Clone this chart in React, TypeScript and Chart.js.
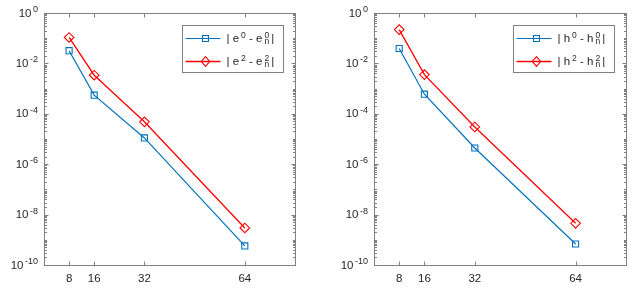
import React, { useEffect, useRef } from "react";
import { Chart, registerables } from "chart.js";

Chart.register(...registerables);

// ---------- data ----------
const nValues = [8, 16, 32, 64];
const xTickValues = [8, 16, 32, 64];
const yTickExponents = [0, -2, -4, -6, -8, -10];

const leftOrder0 = [3.2e-2, 5.5e-4, 1.1e-5, 5.7e-10];
const leftOrder2 = [1.07e-1, 3.4e-3, 4.8e-5, 2.95e-9];
const rightOrder0 = [3.9e-2, 6.0e-4, 4.4e-6, 6.8e-10];
const rightOrder2 = [2.2e-1, 3.6e-3, 3.0e-5, 4.5e-9];

const leftSymbol = "e";
const rightSymbol = "h";
const orderLabels = ["0", "2"];
const subscriptLabel = "n";

// ---------- style ----------
const BLUE = "#0072BD";
const RED = "#FF0000";
const AXIS = "#808080";
const TEXT = "#262626";
const FONT_FAMILY = '"Liberation Sans", Arial, Helvetica, sans-serif';
const TICK_FONT = `11.5px ${FONT_FAMILY}`;
const EXP_FONT = `9px ${FONT_FAMILY}`;
const MAIN_FONT = `11.5px ${FONT_FAMILY}`;
const SMALL_FONT = `8.5px ${FONT_FAMILY}`;

function drawLegendText(ctx: CanvasRenderingContext2D, x: number, y: number, sym: string, order: string) {
  let cx = x;
  ctx.fillStyle = TEXT;
  ctx.textBaseline = "middle";
  ctx.textAlign = "left";
  const put = (t: string, font: string, dy: number) => {
    ctx.font = font;
    ctx.fillText(t, cx, y + dy);
    cx += ctx.measureText(t).width;
  };
  put("| " + sym, MAIN_FONT, 0.5);
  cx += 2;
  put(order, SMALL_FONT, -3);
  put(" - " + sym, MAIN_FONT, 0.5);
  cx += 2;
  ctx.font = SMALL_FONT;
  const w1 = ctx.measureText(order).width;
  const w2 = ctx.measureText(subscriptLabel).width;
  ctx.fillText(order, cx, y - 3);
  ctx.fillText(subscriptLabel, cx, y + 3.5);
  cx += Math.max(w1, w2) + 2;
  put("|", MAIN_FONT, 0.5);
}

function makePlugin(symbol: string) {
  return {
    id: "matlabStyle",
    beforeDatasetsDraw(chart: any) {
      const { ctx, chartArea, scales } = chart;
      const { left, right, top, bottom } = chartArea;
      const x = scales.x;
      const y = scales.y;
      ctx.save();
      ctx.strokeStyle = AXIS;
      ctx.lineWidth = 1;
      const L = Math.round(left) + 0.5;
      const R = Math.round(right) + 0.5;
      const T = Math.round(top) + 0.5;
      const B = Math.round(bottom) + 0.5;
      ctx.strokeRect(L, T, R - L, B - T);
      // y ticks (log)
      ctx.beginPath();
      for (let k = -10; k <= 0; k++) {
        for (let m = 1; m < 10; m++) {
          const v = m * Math.pow(10, k);
          if (v > 1.0000001) break;
          const py = Math.round(y.getPixelForValue(v)) + 0.5;
          const len = m === 1 && k % 2 === 0 ? 4 : 2.5;
          ctx.moveTo(L, py);
          ctx.lineTo(L + len, py);
          ctx.moveTo(R, py);
          ctx.lineTo(R - len, py);
        }
      }
      // x ticks
      for (const v of xTickValues) {
        const px = Math.round(x.getPixelForValue(v)) + 0.5;
        ctx.moveTo(px, B);
        ctx.lineTo(px, B - 4);
        ctx.moveTo(px, T);
        ctx.lineTo(px, T + 4);
      }
      ctx.stroke();

      // x labels
      ctx.fillStyle = TEXT;
      ctx.font = TICK_FONT;
      ctx.textAlign = "center";
      ctx.textBaseline = "middle";
      for (const v of xTickValues) {
        ctx.fillText(String(v), x.getPixelForValue(v), bottom + 14);
      }
      // y labels: 10^k
      for (const k of yTickExponents) {
        const py = y.getPixelForValue(Math.pow(10, k));
        const exp = String(k);
        ctx.font = EXP_FONT;
        const ew = ctx.measureText(exp).width;
        ctx.font = TICK_FONT;
        const bw = ctx.measureText("10").width;
        const endX = left - 6;
        ctx.textAlign = "left";
        ctx.font = TICK_FONT;
        ctx.fillText("10", endX - ew - 1.5 - bw, py + 0.5);
        ctx.font = EXP_FONT;
        ctx.fillText(exp, endX - ew, py - 3.5);
      }
      ctx.restore();
    },
    afterDraw(chart: any) {
      const { ctx, chartArea } = chart;
      const boxW = 101;
      const boxH = 47;
      const bx = Math.round(chartArea.right - 12 - boxW) + 0.5;
      const by = Math.round(chartArea.top + 12) + 0.5;
      ctx.save();
      ctx.fillStyle = "#ffffff";
      ctx.fillRect(bx, by, boxW, boxH);
      ctx.strokeStyle = AXIS;
      ctx.lineWidth = 1;
      ctx.strokeRect(bx, by, boxW, boxH);
      chart.data.datasets.forEach((ds: any, i: number) => {
        const ry = by + 13 + i * 23;
        ctx.strokeStyle = ds.borderColor;
        ctx.lineWidth = ds.borderWidth;
        ctx.beginPath();
        ctx.moveTo(bx + 3, ry);
        ctx.lineTo(bx + 38, ry);
        ctx.stroke();
        const mx = bx + 23;
        ctx.lineWidth = 1.1;
        ctx.beginPath();
        if (i === 0) {
          ctx.rect(mx - 3, ry - 3, 6, 6);
        } else {
          ctx.moveTo(mx, ry - 4.8);
          ctx.lineTo(mx + 4.2, ry);
          ctx.lineTo(mx, ry + 4.8);
          ctx.lineTo(mx - 4.2, ry);
          ctx.closePath();
        }
        ctx.stroke();
        drawLegendText(ctx, bx + 44, ry, symbol, orderLabels[i]);
      });
      ctx.restore();
    },
  };
}

function Plot(props: {
  s0: number[];
  s2: number[];
  symbol: string;
  canvasLeft: number;
  width: number;
  areaLeft: number;
  padRight: number;
}) {
  const ref = useRef<HTMLCanvasElement>(null);
  useEffect(() => {
    if (!ref.current) return;
    const chart = new Chart(ref.current, {
      type: "line",
      data: {
        datasets: [
          {
            label: `|${props.symbol}0 - ${props.symbol}n0|`,
            data: nValues.map((n, i) => ({ x: n, y: props.s0[i] })),
            borderColor: BLUE,
            borderWidth: 1.2,
            pointStyle: "rect",
            pointRadius: 4.3,
            pointBorderWidth: 1.1,
            pointBorderColor: BLUE,
            pointBackgroundColor: "rgba(0,0,0,0)",
            tension: 0,
          },
          {
            label: `|${props.symbol}2 - ${props.symbol}n2|`,
            data: nValues.map((n, i) => ({ x: n, y: props.s2[i] })),
            borderColor: RED,
            borderWidth: 1.3,
            pointStyle: "rectRot",
            pointRadius: 4.8,
            pointBorderWidth: 1.1,
            pointBorderColor: RED,
            pointBackgroundColor: "rgba(0,0,0,0)",
            tension: 0,
          },
        ],
      },
      options: {
        responsive: false,
        animation: false,
        devicePixelRatio: 1,
        layout: { padding: { top: 13, right: props.padRight, left: 0, bottom: 0 } },
        plugins: { legend: { display: false }, tooltip: { enabled: false } },
        scales: {
          x: {
            type: "linear",
            min: 0,
            max: 80,
            ticks: { display: false },
            grid: { display: false },
            border: { display: false },
            afterFit: (s: any) => {
              s.height = 29;
            },
          },
          y: {
            type: "logarithmic",
            min: 1e-10,
            max: 1,
            ticks: { display: false },
            grid: { display: false },
            border: { display: false },
            afterFit: (s: any) => {
              s.width = props.areaLeft;
            },
          },
        },
      } as any,
      plugins: [makePlugin(props.symbol)],
    });
    return () => chart.destroy();
  }, []);
  return (
    <canvas
      ref={ref}
      width={props.width}
      height={294}
      style={{ position: "absolute", left: props.canvasLeft, top: 0, width: props.width, height: 294 }}
    />
  );
}

export default function App() {
  useEffect(() => {
    document.body.style.margin = "0";
  }, []);
  return (
    <div style={{ position: "relative", width: 635, height: 294, background: "#fff" }}>
      <Plot s0={leftOrder0} s2={leftOrder2} symbol={leftSymbol} canvasLeft={0} width={318} areaLeft={44} padRight={23} />
      <Plot s0={rightOrder0} s2={rightOrder2} symbol={rightSymbol} canvasLeft={318} width={317} areaLeft={56} padRight={9} />
    </div>
  );
}
